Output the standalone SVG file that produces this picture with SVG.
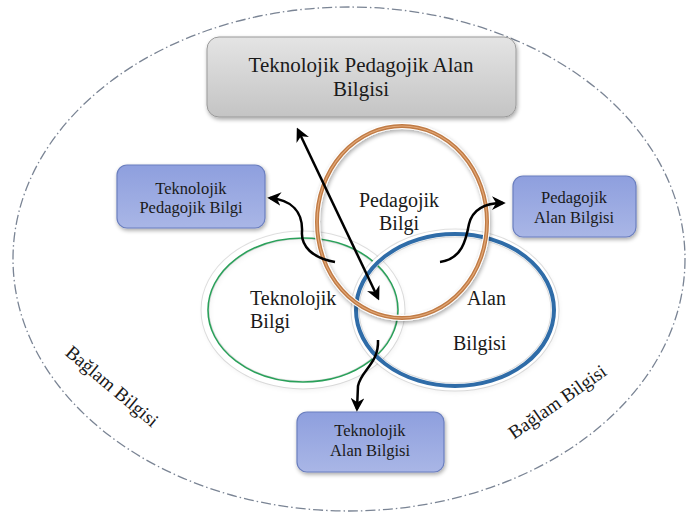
<svg xmlns="http://www.w3.org/2000/svg" width="686" height="515" viewBox="0 0 686 515">
<style>
.box{fill:url(#blue);stroke:#6b7fbf;stroke-width:1.2}
.arr{fill:none;stroke:#000;stroke-width:2.5}
</style>
<defs>
<linearGradient id="grey" x1="0" y1="0" x2="0" y2="1">
<stop offset="0" stop-color="#e4e4e4"/><stop offset="1" stop-color="#c4c4c4"/>
</linearGradient>
<linearGradient id="blue" x1="0" y1="0" x2="0" y2="1">
<stop offset="0" stop-color="#8e9fde"/><stop offset="1" stop-color="#a9b6e6"/>
</linearGradient>
<filter id="sh" x="-20%" y="-20%" width="140%" height="140%">
<feGaussianBlur in="SourceAlpha" stdDeviation="2"/><feOffset dx="1" dy="2"/>
<feComponentTransfer><feFuncA type="linear" slope="0.35"/></feComponentTransfer>
<feMerge><feMergeNode/><feMergeNode in="SourceGraphic"/></feMerge>
</filter>
<marker id="ah" viewBox="0 0 10 10" refX="8" refY="5" markerWidth="5.5" markerHeight="5.5" orient="auto-start-reverse">
<path d="M0,0 L10,5 L0,10 L3,5 z" fill="#000"/>
</marker>
</defs>
<rect width="686" height="515" fill="#fff"/>
<g font-family="'Liberation Serif', 'Times New Roman', serif" fill="#1a1a1a">
<g id="context">
<ellipse cx="349" cy="259" rx="336" ry="252" fill="none" stroke="#7a8494" stroke-width="1.3" stroke-dasharray="10 3 1.5 3"/>
<text font-size="19" transform="translate(108,391) rotate(40)" text-anchor="middle">Bağlam Bilgisi</text>
<text font-size="19" transform="translate(561,407) rotate(-35)" text-anchor="middle">Bağlam Bilgisi</text>
</g>
<g id="tpack">
<rect x="207" y="37" width="309" height="80" rx="12" fill="url(#grey)" stroke="#9a9a9a" stroke-width="1" filter="url(#sh)"/>
<text font-size="21" x="361" y="72" text-anchor="middle">Teknolojik Pedagojik Alan</text>
<text font-size="21" x="361" y="96" text-anchor="middle">Bilgisi</text>
</g>
<g id="tk">
<ellipse cx="303" cy="310" rx="98" ry="75" fill="none" stroke="#000" stroke-opacity="0.12" stroke-width="9" filter="url(#sh)"/>
<ellipse cx="303" cy="310" rx="98" ry="75" fill="none" stroke="#fff" stroke-width="7"/>
<ellipse cx="303" cy="310" rx="95" ry="72" fill="none" stroke="#2aa05a" stroke-width="1.6"/>
<text font-size="20" x="250" y="305">Teknolojik</text>
<text font-size="20" x="250" y="328">Bilgi</text>
</g>
<g id="ck">
<ellipse cx="455" cy="310" rx="100" ry="77" fill="none" stroke="#000" stroke-opacity="0.12" stroke-width="9" filter="url(#sh)"/>
<ellipse cx="455" cy="310" rx="100" ry="77" fill="none" stroke="#fff" stroke-width="7"/>
<ellipse cx="455" cy="310" rx="99" ry="76" fill="none" stroke="#2f6ca8" stroke-width="4"/>
<text font-size="20" x="467" y="305">Alan</text>
<text font-size="20" x="453" y="350">Bilgisi</text>
</g>
<g id="pk">
<ellipse cx="402" cy="222" rx="85" ry="96" fill="none" stroke="#fff" stroke-width="6" filter="url(#sh)"/>
<ellipse cx="402" cy="222" rx="85" ry="96" fill="none" stroke="#c07b45" stroke-width="4"/>
<ellipse cx="402" cy="222" rx="85" ry="96" fill="none" stroke="#e2a878" stroke-width="1.2"/>
<text font-size="20" x="399" y="207" text-anchor="middle">Pedagojik</text>
<text font-size="20" x="399" y="230" text-anchor="middle">Bilgi</text>
</g>
<g id="tpk">
<rect x="117" y="165" width="148" height="63" rx="10" class="box" filter="url(#sh)"/>
<text font-size="16.5" x="191" y="194" text-anchor="middle">Teknolojik</text>
<text font-size="16.5" x="191" y="213" text-anchor="middle">Pedagojik Bilgi</text>
</g>
<g id="pck">
<rect x="513" y="176" width="123" height="61" rx="10" class="box" filter="url(#sh)"/>
<text font-size="16.5" x="574" y="203" text-anchor="middle">Pedagojik</text>
<text font-size="16.5" x="574" y="223" text-anchor="middle">Alan Bilgisi</text>
</g>
<g id="tck">
<rect x="297" y="412" width="147" height="60" rx="10" class="box" filter="url(#sh)"/>
<text font-size="16.5" x="370" y="436" text-anchor="middle">Teknolojik</text>
<text font-size="16.5" x="370" y="456" text-anchor="middle">Alan Bilgisi</text>
</g>
</g>
<g id="connectors">
<path class="arr" stroke-width="2.8" d="M298,130 L378,298" marker-start="url(#ah)" marker-end="url(#ah)"/>
<path class="arr" d="M335,262 C312,258 301,246 302,232 C303,212 292,200 270,198" marker-end="url(#ah)"/>
<path class="arr" d="M440,262 C462,259 466,240 469,224 C473,208 486,203 503,203" marker-end="url(#ah)"/>
<path class="arr" d="M378,340 C379,364 361,370 358,386 L357,409" marker-end="url(#ah)"/>
</g>
</svg>
